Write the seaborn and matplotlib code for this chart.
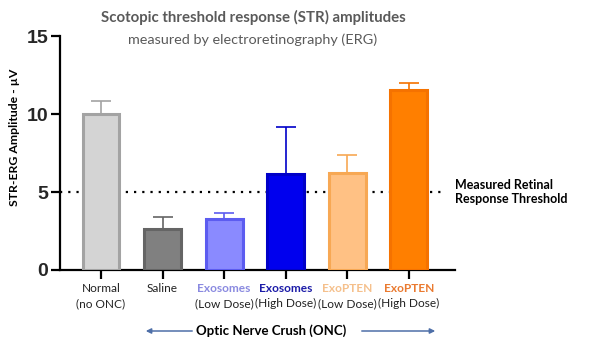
import matplotlib
matplotlib.use("Agg")
import matplotlib.pyplot as plt
import seaborn as sns
import pandas as pd
import numpy as np

# ---- data ----
groups = ["Normal", "Saline", "Exosomes Low", "Exosomes High", "ExoPTEN Low", "ExoPTEN High"]
label_top = ["Normal", "Saline", "Exosomes", "Exosomes", "ExoPTEN", "ExoPTEN"]
label_bottom = ["(no ONC)", "", "(Low Dose)", "(High Dose)", "(Low Dose)", "(High Dose)"]
means = [10.0, 2.65, 3.3, 6.15, 6.25, 11.55]
errors = [0.85, 0.75, 0.35, 3.05, 1.15, 0.45]
threshold = 5
yticks = [0, 5, 10, 15]

fills = ["#d4d4d4", "#808080", "#8a8aff", "#0000ee", "#ffc184", "#ff7f00"]
edges = ["#a3a3a3", "#656565", "#5c5cf0", "#0000c8", "#f7a854", "#f57200"]
top_colors = ["#222222", "#222222", "#8a8ae0", "#1c1ca8", "#f5c08c", "#ea7a30"]
top_weights = ["normal", "normal", "bold", "bold", "bold", "bold"]

sns.set_style("white")
plt.rcParams["font.family"] = ["Lato", "DejaVu Sans"]

fig = plt.figure(figsize=(6.02, 3.45), dpi=100)
ax = fig.add_axes([60/602, 1-270/345, (455-60)/602, (270-36.3)/345])

df = pd.DataFrame({"group": groups, "value": means})
sns.barplot(data=df, x="group", y="value", hue="group", palette=fills,
            saturation=1, legend=False, width=0.6, ax=ax, zorder=3, errorbar=None)
for p, ec in zip(ax.patches, edges):
    p.set_edgecolor(ec)
    p.set_linewidth(2.2)

for i, (m, e, c) in enumerate(zip(means, errors, edges)):
    ax.errorbar(i, m, yerr=[[0], [e]], fmt="none", ecolor=c, elinewidth=1.2,
                capsize=7.5, capthick=1.2, zorder=2)

ax.axhline(threshold, xmin=0, xmax=(445-60)/(455-60), color="black",
           linestyle=(0, (1, 2.7)), linewidth=1.6, zorder=1)

ax.set_xlim(-0.666, 5.75)
ax.set_ylim(0, 15)
ax.set_yticks(yticks)
ax.set_yticklabels([str(t) for t in yticks], fontfamily="Liberation Sans",
                   fontweight="bold", fontsize=14)
ax.set_xticks(range(len(groups)))
ax.set_xticklabels([])
ax.set_xlabel("")
ax.set_ylabel("")
for s in ["top", "right"]:
    ax.spines[s].set_visible(False)
for s in ["left", "bottom"]:
    ax.spines[s].set_linewidth(1.6)
    ax.spines[s].set_color("black")
ax.tick_params(axis="both", direction="out", length=6.5, width=1.6, color="black",
               left=True, bottom=True, pad=2)

# category labels
trans = ax.get_xaxis_transform()
for i in range(len(groups)):
    x = i
    ax.text(x, -(288-270)/(270-36.3), label_top[i], transform=trans, ha="center",
            va="center", fontsize=8.6, color=top_colors[i], fontweight=top_weights[i])
    if label_bottom[i]:
        ax.text(x, -(303.5-270)/(270-36.3), label_bottom[i], transform=trans,
                ha="center", va="center", fontsize=8.6, color="#222222")

# threshold label
fig.text(455/602, 1-192/345, "Measured Retinal\nResponse Threshold", ha="left",
         va="center", fontsize=9, fontweight="bold", color="black", linespacing=1.25)

# titles
fig.text(253/602, 1-17/345, "Scotopic threshold response (STR) amplitudes",
         ha="center", va="center", fontsize=10.8, fontweight="bold", color="#5a5a5a")
fig.text(253/602, 1-40/345, "measured by electroretinography (ERG)",
         ha="center", va="center", fontsize=10.4, color="#5a5a5a")

# y label
fig.text(15/602, 1-137/345, "STR-ERG Amplitude - µV", rotation=90, ha="center",
         va="center", fontsize=8.8, fontweight="bold", color="black")

# bottom annotation
fig.text(271/602, 1-331/345, "Optic Nerve Crush (ONC)", ha="center", va="center",
         fontsize=9.5, fontweight="bold", color="black")
arrow_c = "#4e6fa8"
fig.add_artist(matplotlib.patches.FancyArrowPatch(
    (195/602, 1-331/345), (143/602, 1-331/345), transform=fig.transFigure,
    arrowstyle="-|>,head_length=3,head_width=1.5", color=arrow_c, lw=1.1))
fig.add_artist(matplotlib.patches.FancyArrowPatch(
    (359/602, 1-331/345), (438/602, 1-331/345), transform=fig.transFigure,
    arrowstyle="-|>,head_length=3,head_width=1.5", color=arrow_c, lw=1.1))

fig.savefig("out.png", dpi=100)
